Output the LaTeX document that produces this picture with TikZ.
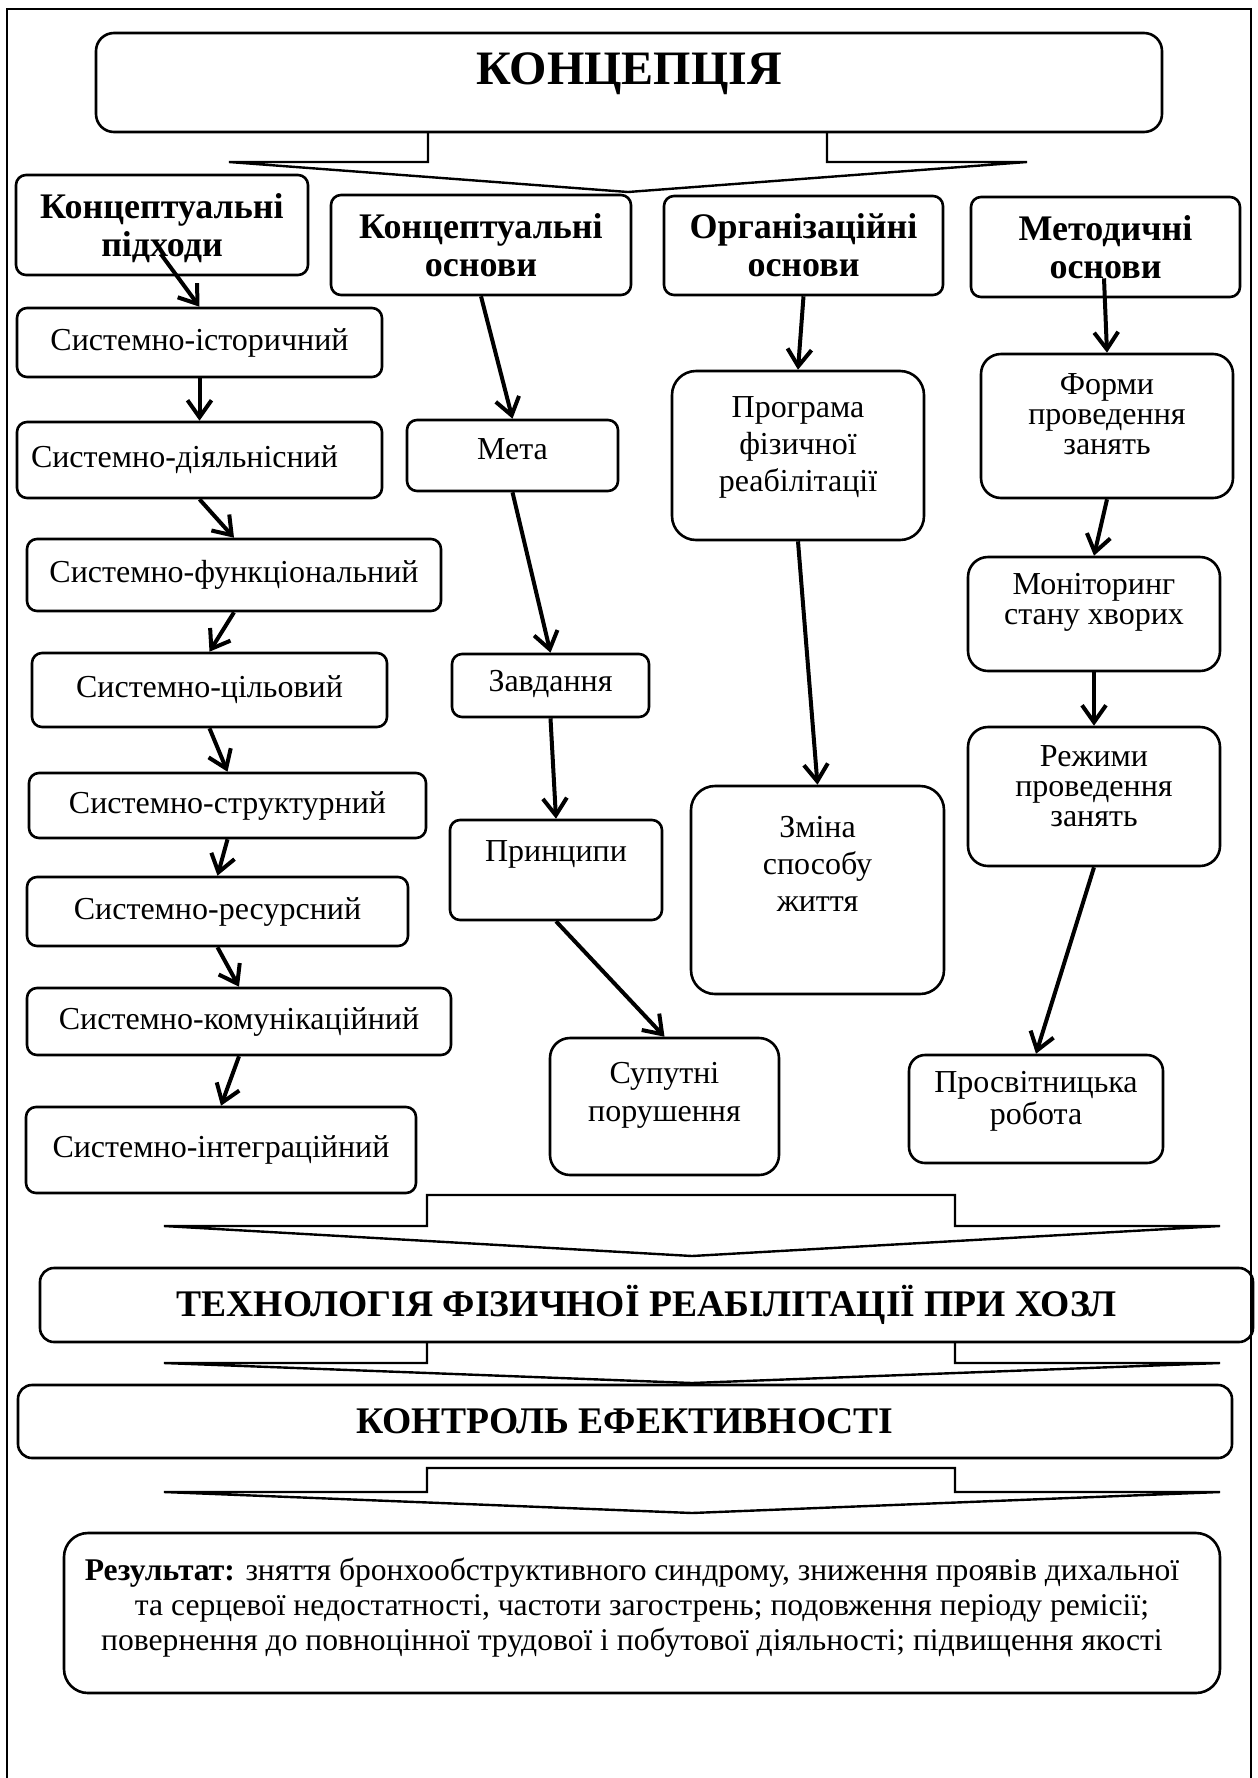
\documentclass[tikz,border=0pt]{standalone}
\usepackage{fontspec}
\setmainfont{Liberation Serif}
\usetikzlibrary{arrows.meta,calc}

\tikzset{
  box/.style={draw, line width=1.3pt, rounded corners=5pt, align=center, inner sep=1pt,
    font=\fontsize{16}{18.5}\selectfont},
  head/.style={box, font=\fontsize{18}{19}\selectfont\bfseries, lift=0pt},
  tight/.style={font=\fontsize{16}{15}\selectfont},
  lift/.style={text depth=#1},
  arr/.style={-{Straight Barb[length=8.5pt,width=12pt]}, line width=2pt},
  bigarrow/.style={draw, line width=1.2pt, line join=miter},
}

\begin{document}
\begin{tikzpicture}[x=0.5pt, y=-0.5pt]
\useasboundingbox (0,0) rectangle (1258,1778);
% page frame, open at the bottom
\draw[line width=1pt] (7,1778) -- (7,9) -- (1251,9) -- (1251,1778);

\node[box, rounded corners=9pt, minimum width=533pt, minimum height=49.5pt,
  font=\fontsize{24}{28}\selectfont\bfseries, lift=13.5pt] (title) at (629,82.5) {КОНЦЕПЦІЯ};
\draw[bigarrow] (428,132) -- (428,162) -- (229,162) -- (628,192) -- (1027,162) -- (827,162) -- (827,132);

% the four headings
\node[head, minimum width=146pt, minimum height=50pt] (hdA) at (162,225) {Концептуальні\\підходи};
\node[head, minimum width=150pt, minimum height=50pt] (hdB) at (481,245) {Концептуальні\\основи};
\node[head, minimum width=139.5pt, minimum height=49.5pt] (hdC) at (803.5,245.5) {Організаційні\\основи};
\node[head, minimum width=134.5pt, minimum height=50pt] (hdD) at (1105.5,247) {Методичні\\основи};

% left column: approaches
\foreach \name/\cx/\cy/\w/\h/\txt in {
  sA1/199.5/342.5/182.5pt/34.5pt/Системно-історичний,
  sA2/199.5/460/182.5pt/38pt/Системно-діяльнісний\hspace*{15pt},
  sA3/234/575/207pt/36pt/Системно-функціональний,
  sA4/209.5/690/177.5pt/37pt/Системно-цільовий,
  sA5/227.5/805.5/198.5pt/32.5pt/Системно-структурний,
  sA6/217.5/911.5/190.5pt/34.5pt/Системно-ресурсний,
  sA7/239/1021.5/212pt/33.5pt/Системно-комунікаційний,
  sA8/221/1150/195pt/43pt/Системно-інтеграційний} {
  \node[box, minimum width=\w, minimum height=\h] (\name) at (\cx,\cy) {\txt};
}
\draw[arr] ($(hdA.south)+(-1,-22)$) -- (sA1.north);
\foreach \a/\b in {sA1/sA2, sA2/sA3, sA3/sA4, sA4/sA5, sA5/sA6, sA6/sA7, sA7/sA8}
  \draw[arr] (\a.south) -- (\b.north);

% conceptual bases
\node[box, minimum width=105.5pt, minimum height=35.5pt, lift=6.5pt] (bM1) at (512.5,455.5) {Мета};
\node[box, minimum width=98.5pt, minimum height=31.5pt, lift=4.5pt] (bM2) at (550.5,685.5) {Завдання};
\node[box, minimum width=106pt, minimum height=50pt, lift=19pt] (bM3) at (556,870) {Принципи};
\node[box, rounded corners=10pt, minimum width=114.5pt, minimum height=68.5pt,
  font=\fontsize{16}{19}\selectfont, lift=14.5pt] (bM4) at (664.5,1106.5) {Супутні\\порушення};
\draw[arr] (hdB.south) -- (bM1.north);
\draw[arr] (bM1.south) -- (bM2.north);
\draw[arr] (bM2.south) -- (bM3.north);
\draw[arr] (bM3.south) -- (bM4.north);

% organisational bases
\node[box, rounded corners=12pt, minimum width=126pt, minimum height=84.5pt, lift=11.5pt] (bO1)
  at (798,455.5) {Програма\\фізичної\\реабілітації};
\node[box, rounded corners=12pt, minimum width=126.5pt, minimum height=104pt, lift=26pt] (bO2)
  at (817.5,890) {Зміна\\способу\\життя};
\draw[arr] (hdC.south) -- (bO1.north);
\draw[arr] (bO1.south) -- (bO2.north);

% methodical bases
\node[box, tight, rounded corners=10pt, minimum width=126pt, minimum height=72pt, lift=12pt] (bD1)
  at (1107,426) {Форми\\проведення\\занять};
\node[box, tight, rounded corners=10pt, minimum width=126pt, minimum height=57pt, lift=15pt] (bD2)
  at (1094,614) {Моніторинг\\стану хворих};
\node[box, tight, rounded corners=10pt, minimum width=126pt, minimum height=69.5pt, lift=10.5pt] (bD3)
  at (1094,796.5) {Режими\\проведення\\занять};
\node[box, rounded corners=8pt, minimum width=127pt, minimum height=54pt,
  font=\fontsize{16}{13.5}\selectfont, lift=11pt] (bD4) at (1036,1109) {Просвітницька\\робота};
\draw[arr] ($(hdD.south)+(-1.5,-20)$) -- (bD1.north);
\draw[arr] (bD1.south) -- (bD2.north);
\draw[arr] (bD2.south) -- (bD3.north);
\draw[arr] (bD3.south) -- (bD4.north);

% technology, control and result
\draw[bigarrow] (427,1195) -- (955,1195) -- (955,1226) -- (1220,1226) -- (692,1256) -- (164,1226) -- (427,1226) -- cycle;
\node[box, rounded corners=7pt, minimum width=606.5pt, minimum height=37pt,
  font=\fontsize{18.8}{20}\selectfont\bfseries] (tech) at (646.5,1305) {ТЕХНОЛОГІЯ ФІЗИЧНОЇ РЕАБІЛІТАЦІЇ ПРИ ХОЗЛ};
\draw[bigarrow] (427,1342) -- (427,1363) -- (164,1363) -- (692,1383) -- (1220,1363) -- (955,1363) -- (955,1342);
\node[box, rounded corners=7pt, minimum width=607pt, minimum height=36.5pt,
  font=\fontsize{18.8}{20}\selectfont\bfseries] (ctrl) at (625,1421.5) {КОНТРОЛЬ ЕФЕКТИВНОСТІ};
\draw[bigarrow] (427,1468) -- (955,1468) -- (955,1492) -- (1220,1492) -- (692,1513) -- (164,1492) -- (427,1492) -- cycle;
\node[box, rounded corners=12pt, minimum width=578pt, minimum height=80pt,
  font=\fontsize{15.8}{17.5}\selectfont, lift=9pt] (res) at (642,1613)
  {\textbf{Результат:} зняття бронхообструктивного синдрому, зниження проявів дихальної\hspace*{10pt}\\
   та серцевої недостатності, частоти загострень; подовження періоду ремісії;\hspace*{10pt}\\
   повернення до повноцінної трудової і побутової діяльності; підвищення якості\hspace*{10pt}};
\end{tikzpicture}
\end{document}
